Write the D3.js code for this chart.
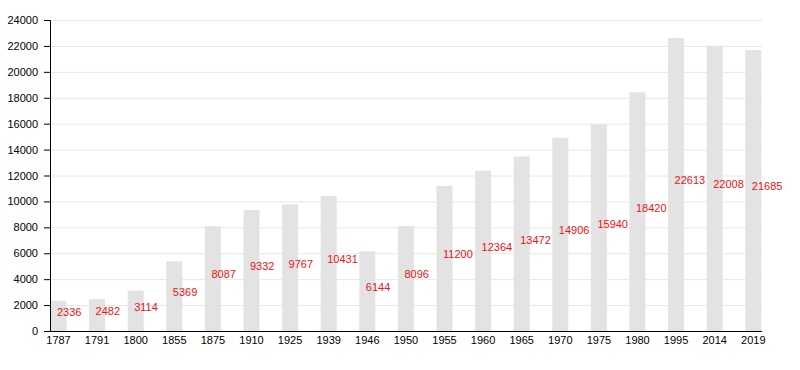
<!DOCTYPE html>
<html><head><meta charset="utf-8">
<script src="https://cdn.jsdelivr.net/npm/d3@7"></script>
<style>body{margin:0;background:#fff}svg{display:block}</style>
</head><body>
<svg id="c" width="800" height="370"></svg>
<script>
const years = ["1787","1791","1800","1855","1875","1910","1925","1939","1946","1950","1955","1960","1965","1970","1975","1980","1995","2014","2019"];
const population = [2336,2482,3114,5369,8087,9332,9767,10431,6144,8096,11200,12364,13472,14906,15940,18420,22613,22008,21685];
const yTicks = [0,2000,4000,6000,8000,10000,12000,14000,16000,18000,20000,22000,24000];

(function(){
const svg = d3.select("#c");
const mLeft = 50, mRight = 762, mTop = 20, mBottom = 331;
const step = 38.6;
const x = d3.scaleBand().domain(years).range([mLeft, mLeft + step*years.length]).paddingInner(0).paddingOuter(0);
const y = d3.scaleLinear().domain([0,24000]).range([mBottom, mTop]);
const bw = 16;
const font = "Liberation Sans, Arial, sans-serif";

svg.append("g").selectAll("line").data(yTicks.filter(d=>d>0)).join("line")
  .attr("x1", mLeft).attr("x2", mRight)
  .attr("y1", d=>y(d)+0.5).attr("y2", d=>y(d)+0.5)
  .attr("stroke", "#e6e6e6").attr("stroke-width", 1);

svg.append("g").selectAll("rect").data(population).join("rect")
  .attr("x", (d,i)=>x(years[i]) + 0.5)
  .attr("width", bw)
  .attr("y", d=>y(d))
  .attr("height", d=>mBottom - y(d))
  .attr("fill", "#e3e3e3");

svg.append("g").selectAll("text").data(population).join("text")
  .attr("x", (d,i)=>x(years[i]) + bw/2 - 1)
  .attr("y", d=>y(d/2) - 4)
  .attr("dy", "0.35em")
  .attr("text-anchor", "start")
  .attr("font-family", font).attr("font-size", 11)
  .attr("fill", "#ee1111")
  .text(d=>d);

const ya = svg.append("g").attr("transform", `translate(${mLeft},0)`)
  .call(d3.axisLeft(y).tickValues(yTicks).tickSize(6).tickPadding(6).tickFormat(d=>d));
ya.select(".domain").attr("stroke", "#000");
ya.selectAll("text").attr("font-family", font).attr("font-size", 11).attr("fill", "#000");

const xa = svg.append("g").attr("transform", `translate(0,${mBottom})`)
  .call(d3.axisBottom(x).tickSize(0).tickPadding(5));
xa.select(".domain").attr("d", `M${mLeft},0.5H${mRight}`).attr("stroke", "#000");
xa.selectAll(".tick").attr("transform", d=>`translate(${x(d)+0.5+bw/2},0)`);
xa.selectAll("text").attr("font-family", font).attr("font-size", 11).attr("fill", "#000");
})();
</script>
</body></html>
